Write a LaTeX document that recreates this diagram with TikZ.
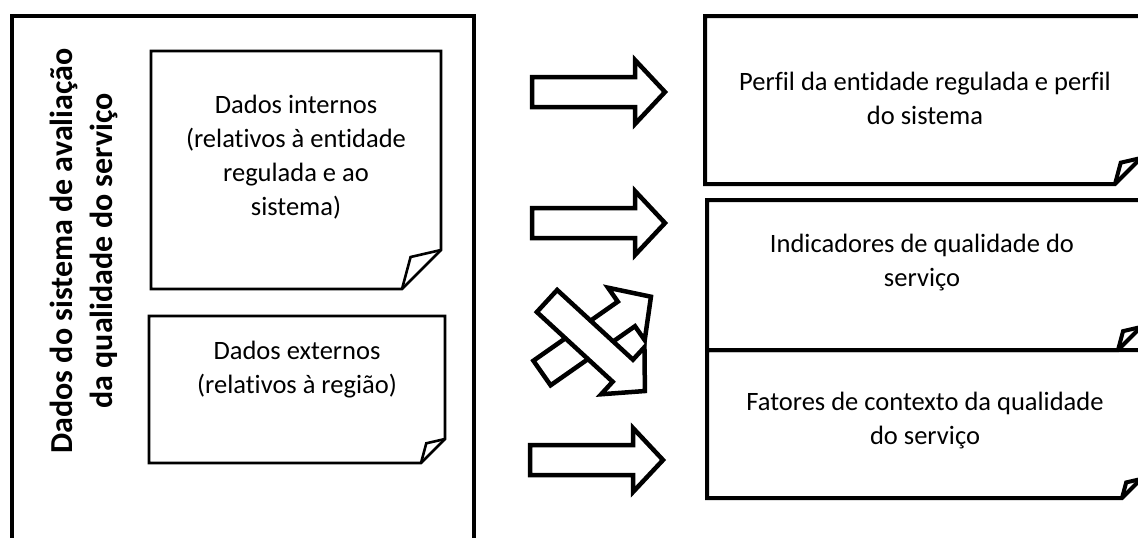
\documentclass[tikz,border=0pt]{standalone}
\usepackage{fontspec}
\setmainfont{Carlito}[Ligatures=NoCommon]
\newcommand\foldpaper[6]{%
  \draw[#1] (#2,#3) -- (#4,#3) -- (#4,#5-#6) -- (#4-#6,#5) -- (#2,#5) -- cycle;
  \draw[#1] (#4,#5-#6) -- (#4-0.78*#6,#5-0.82*#6) -- (#4-#6,#5);
}
\newcommand\blockarrow[3]{%
  \draw[blockarr, shift={(#1,#2)}, rotate=#3] (0,-15) -- (103,-15) -- (103,-32) -- (133,0) -- (103,32) -- (103,15) -- (0,15) -- cycle;
}
\begin{document}
\begin{tikzpicture}[x=1pt,y=-1pt,
  bigline/.style={line width=4.5pt},
  paperthin/.style={line width=2.6pt, line join=miter},
  paperthick/.style={line width=4pt, line join=miter},
  blockarr/.style={draw, line width=4.5pt, fill=white, line join=miter},
  txt/.style={font=\fontsize{26.5}{34}\selectfont, align=center, inner sep=0pt},
  vtxt/.style={font=\bfseries\fontsize{32}{40}\selectfont, align=center, rotate=90, inner sep=0pt}]
\useasboundingbox (0,0) rectangle (1138,538);
\fill[white] (0,0) rectangle (1138,538);
\clip (0,0) rectangle (1138,538);

% outer frame
\draw[bigline] (12,570) -- (12,16) -- (474,16) -- (474,570);
\node[vtxt] (title) at (84,251) {Dados do sistema de avaliação\\da qualidade do serviço};

% inner papers
\foldpaper{paperthin}{151}{51}{441}{289}{39}
\node[txt] (int) at (296,157) {Dados internos\\(relativos à entidade\\regulada e ao\\sistema)};
\foldpaper{paperthin}{149}{316}{445}{463}{24}
\node[txt] (ext) at (297,370) {Dados externos\\(relativos à região)};

% right papers
\foldpaper{paperthick}{705}{16}{1141}{184}{26}
\node[txt] (perfil) at (925,98) {Perfil da entidade regulada e perfil\\do sistema};
\foldpaper{paperthick}{707}{200}{1141}{350}{23}
\node[txt] (indic) at (922,263) {Indicadores de qualidade do\\serviço};
\foldpaper{paperthick}{707}{350}{1141}{498}{19}
\node[txt] (fatores) at (925,421) {Fatores de contexto da qualidade\\do serviço};

% block arrows
\blockarrow{532}{92}{0}
\blockarrow{532}{223}{0}
\blockarrow{542}{373}{35}
\blockarrow{547}{301}{-42.6}
\blockarrow{530}{460}{0}
\end{tikzpicture}
\end{document}
